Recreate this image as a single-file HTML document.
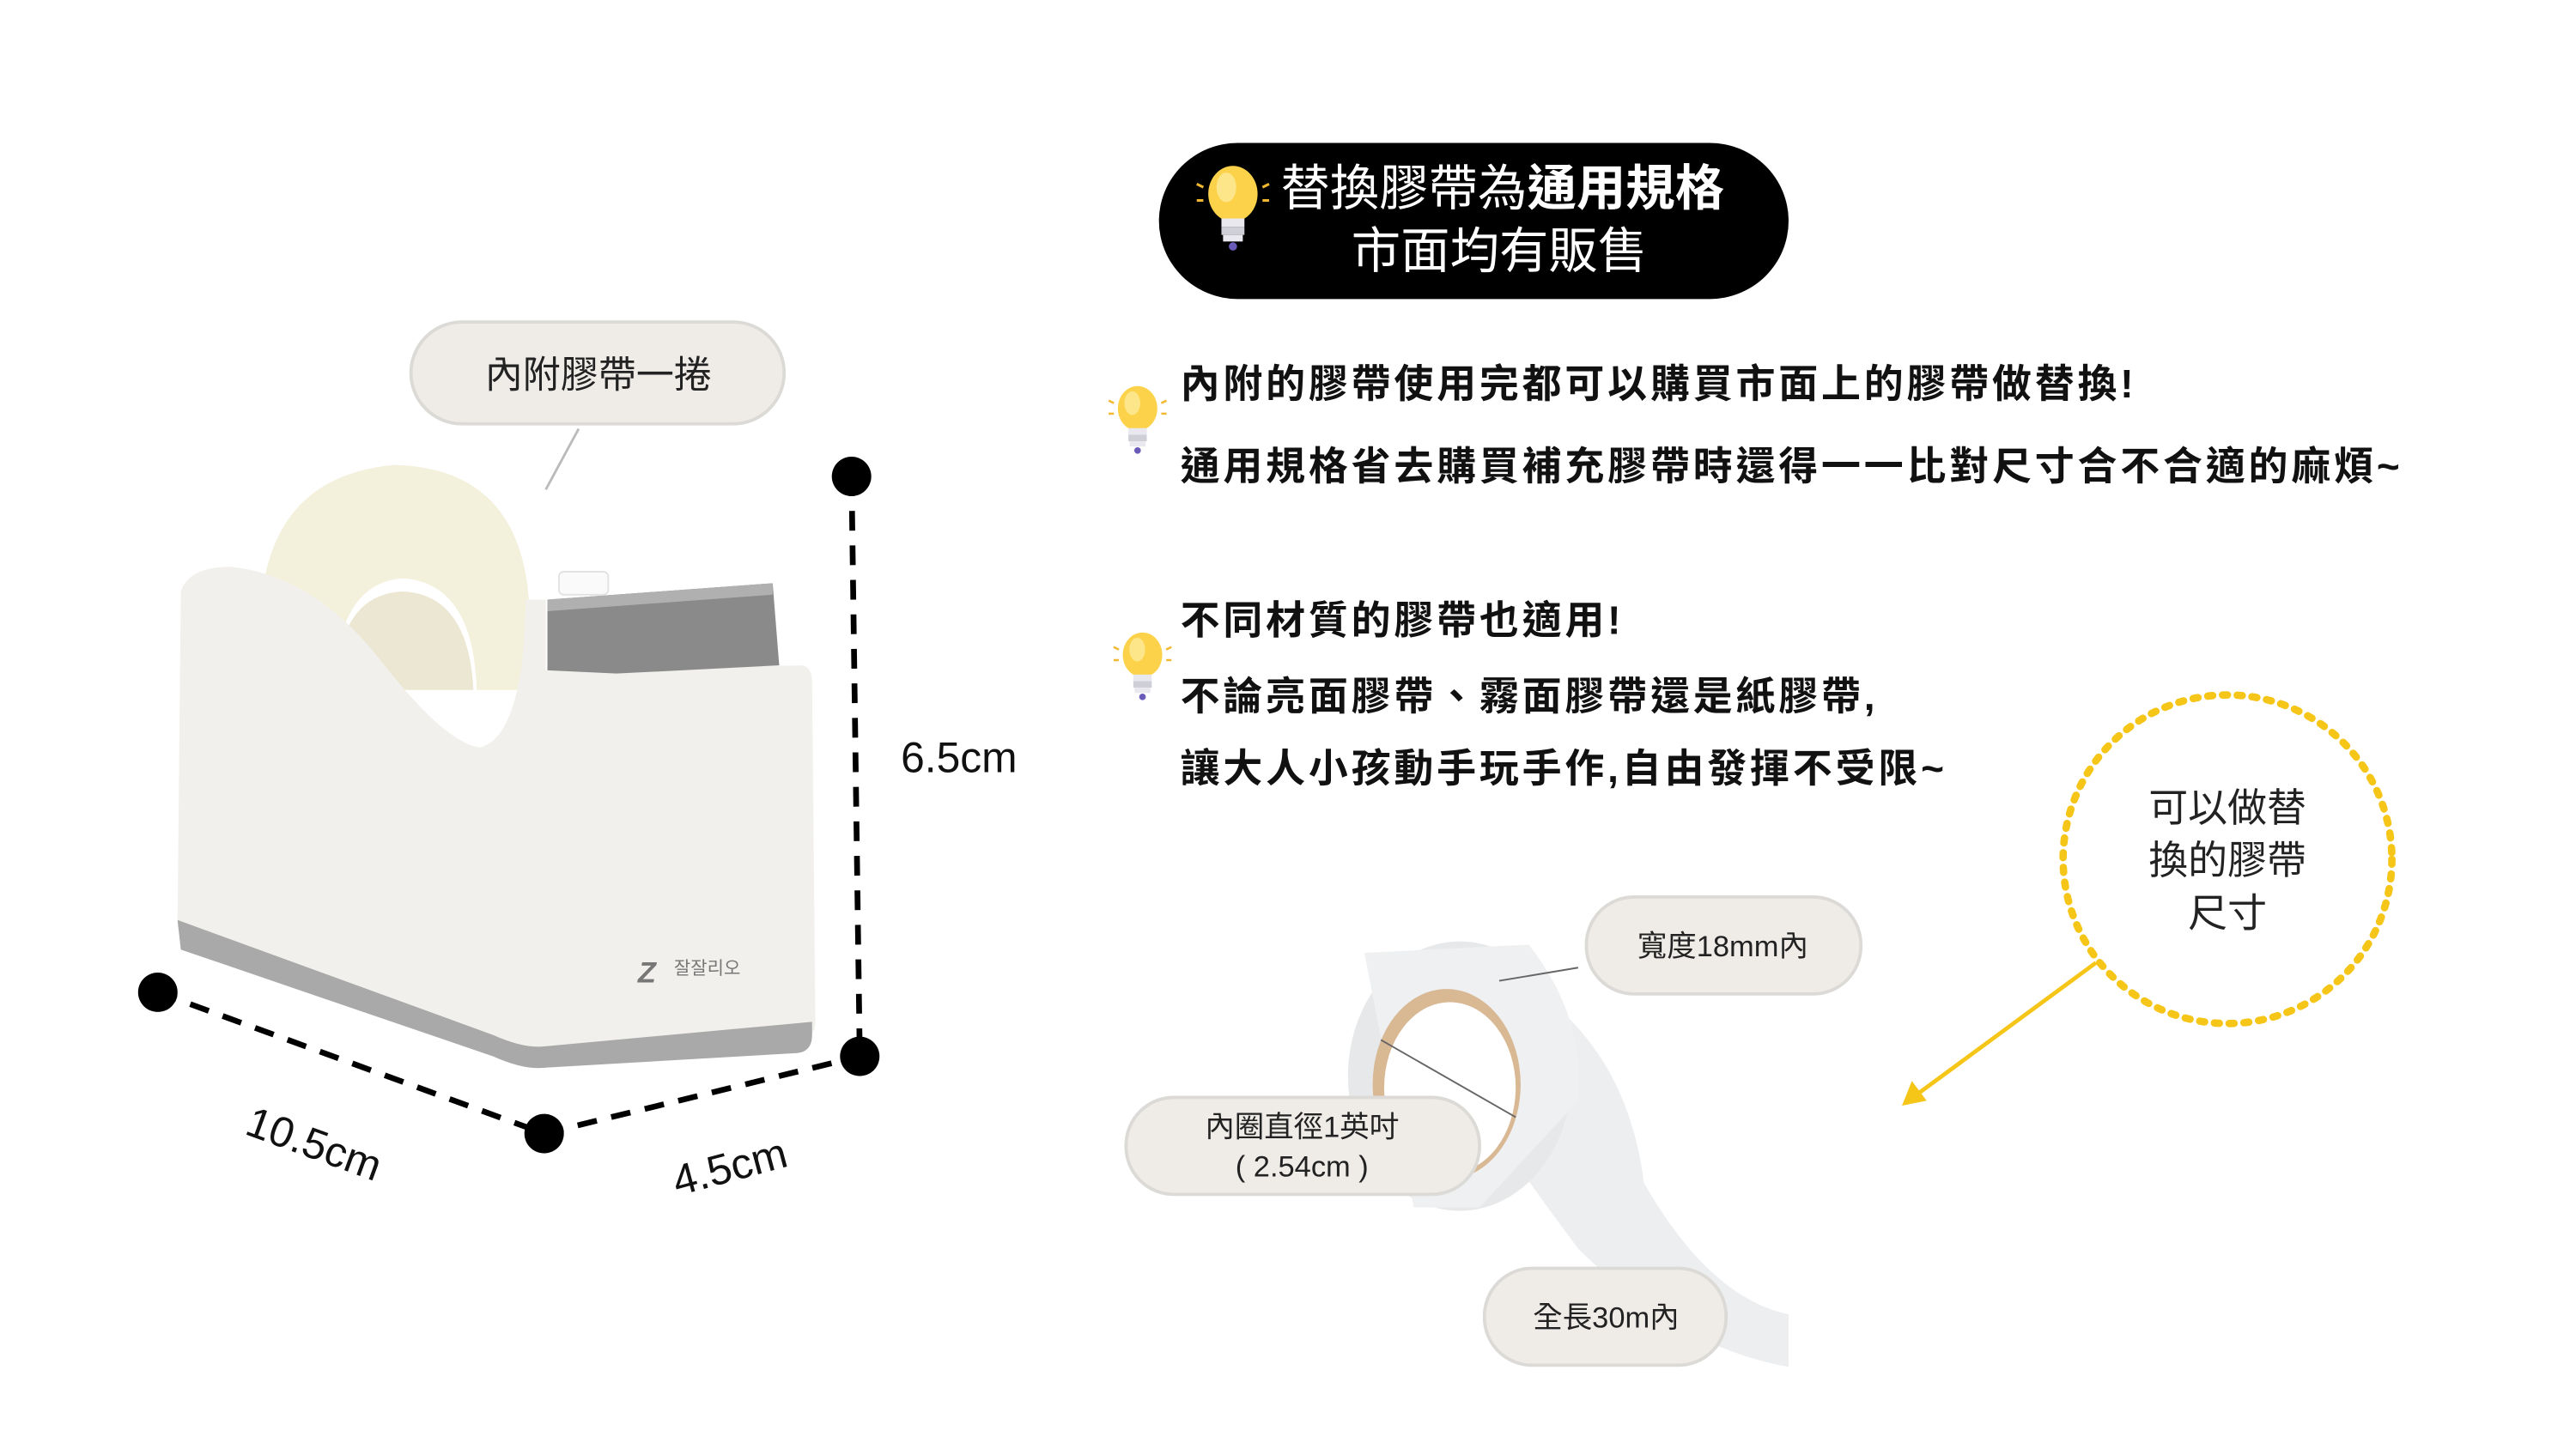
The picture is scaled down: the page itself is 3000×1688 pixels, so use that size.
<!DOCTYPE html>
<html><head><meta charset="utf-8"><style>
html,body{margin:0;padding:0;background:#fff;}
svg{display:block;}
text{font-family:"Liberation Sans","Noto Sans CJK TC",sans-serif;}
</style></head><body>
<svg width="3000" height="1688" viewBox="0 0 1567 882" preserveAspectRatio="none" xmlns="http://www.w3.org/2000/svg">
<defs>
<g id="bulb">
<ellipse cx="0" cy="-8" rx="15" ry="17" fill="#fcd24a"/>
<ellipse cx="-4" cy="-12" rx="6" ry="9" fill="#fde68a"/>
<rect x="-7" y="7" width="14" height="5" fill="#e8e8ee"/>
<rect x="-7" y="12" width="14" height="5" fill="#cfcfd8"/>
<rect x="-6" y="17" width="12" height="4" fill="#e8e8ee"/>
<circle cx="0" cy="24" r="2.5" fill="#6b5bb8"/>
<g stroke="#f2b830" stroke-width="1.6"><line x1="-22" y1="-14" x2="-18" y2="-12"/><line x1="18" y1="-12" x2="22" y2="-14"/><line x1="-22" y1="-4" x2="-18" y2="-4"/><line x1="18" y1="-4" x2="22" y2="-4"/></g>
</g>
</defs>
<!-- header pill -->
<rect x="705" y="87" width="383" height="95" rx="48" fill="#000"/>
<use href="#bulb" x="750" y="126"/>
<text x="779" y="125" font-size="30" fill="#fff">替換膠帶為<tspan font-weight="bold">通用規格</tspan></text>
<text x="912" y="163" font-size="30" fill="#fff" text-anchor="middle">市面均有販售</text>
<!-- bullets -->
<use href="#bulb" x="692" y="255" transform="translate(692 255) scale(0.8) translate(-692 -255)"/>
<use href="#bulb" x="695" y="405" transform="translate(695 405) scale(0.8) translate(-695 -405)"/>
<g font-size="24" font-weight="bold" fill="#111" letter-spacing="2">
<text x="718" y="242">內附的膠帶使用完都可以購買市面上的膠帶做替換!</text>
<text x="718" y="292">通用規格省去購買補充膠帶時還得一一比對尺寸合不合適的麻煩~</text>
<text x="718" y="386">不同材質的膠帶也適用!</text>
<text x="718" y="432">不論亮面膠帶、霧面膠帶還是紙膠帶,</text>
<text x="718" y="476">讓大人小孩動手玩手作,自由發揮不受限~</text>
</g>
<!-- label pill -->
<rect x="250" y="196" width="227" height="62" rx="31" fill="#efece8" stroke="#dcdad6" stroke-width="2"/>
<text x="364" y="236" font-size="23" fill="#222" text-anchor="middle">內附膠帶一捲</text>
<line x1="352" y1="261" x2="332" y2="298" stroke="#bbb" stroke-width="1.5"/>
<!-- dispenser: roll -->
<path d="M158 380 Q160 290 240 283 Q318 285 322 370 L322 420 L290 420 Q288 355 245 352 Q205 355 203 420 L160 420 Z" fill="#f3f0dc"/>
<path d="M205 420 Q205 362 245 360 Q285 362 288 420 Z" fill="#ebe7d2"/>
<!-- body -->
<path d="M110 360 Q115 345 140 345 Q190 350 230 400 Q270 452 292 455 Q312 450 318 400 L320 365 L332 365 L332 408 L488 405 Q494 406 494 415 L496 620 Q497 632 485 633 L330 645 Q320 646 300 638 L115 575 Q108 572 108 560 Z" fill="#f2f0ec"/>
<path d="M108 560 L300 630 Q318 638 330 637 L494 622 L494 630 Q494 640 485 641 L330 650 Q318 651 300 643 L110 578 Z" fill="#a9a9a9"/>
<path d="M333 365 L470 355 L474 405 L375 410 L333 408 Z" fill="#8a8a8a"/>
<path d="M333 365 L470 355 L470 362 L333 372 Z" fill="#b0b0b0"/>
<rect x="340" y="348" width="30" height="14" rx="3" fill="#fafafa" stroke="#e2e2e2"/>
<text x="388" y="598" font-size="18" font-style="italic" font-weight="bold" fill="#777">Z</text>
<text x="410" y="593" font-size="11" fill="#777" font-family="NanumGothic,sans-serif">잘잘리오</text>
<!-- dimensions -->
<g stroke="#000" stroke-width="3.5" stroke-dasharray="12 9" fill="none">
<line x1="518" y1="290" x2="523" y2="643"/>
<line x1="96" y1="604" x2="331" y2="690"/>
<line x1="331" y1="690" x2="523" y2="643"/>
</g>
<g fill="#000"><circle cx="518" cy="290" r="12"/><circle cx="523" cy="643" r="12"/><circle cx="96" cy="604" r="12"/><circle cx="331" cy="690" r="12"/></g>
<text x="548" y="470" font-size="26" fill="#111">6.5cm</text>
<text x="148" y="690" font-size="26" fill="#111" transform="rotate(20 148 690)">10.5cm</text>
<text x="412" y="728" font-size="26" fill="#111" transform="rotate(-15 412 728)">4.5cm</text>
<!-- tape roll -->
<path d="M930 600 Q990 640 1000 720 Q1040 790 1088 800 L1088 832 Q1020 820 960 760 Q930 720 910 690 Z" fill="#eceef0"/>
<ellipse cx="888" cy="655" rx="68" ry="82" fill="#e6e8ea"/>
<path d="M830 580 L930 575 Q965 620 960 670 L900 735 L860 735 Z" fill="#eef0f1"/>
<ellipse cx="880" cy="660" rx="45" ry="58" fill="#d9b894"/>
<ellipse cx="882" cy="662" rx="40" ry="52" fill="#fff"/>
<line x1="840" y1="633" x2="922" y2="680" stroke="#666" stroke-width="1"/>
<line x1="912" y1="597" x2="960" y2="589" stroke="#666" stroke-width="1"/>
<!-- tape pills -->
<g fill="#efece8" stroke="#dcdad6" stroke-width="2">
<rect x="965" y="546" width="167" height="59" rx="29"/>
<rect x="685" y="668" width="215" height="59" rx="29"/>
<rect x="903" y="772" width="147" height="59" rx="29"/>
</g>
<g font-size="18" fill="#222" text-anchor="middle">
<text x="1048" y="582">寬度18mm內</text>
<text x="792" y="692">內圈直徑1英吋</text>
<text x="792" y="716">( 2.54cm )</text>
<text x="977" y="808">全長30m內</text>
</g>
<!-- dotted circle -->
<circle cx="1355" cy="523" r="100" fill="none" stroke="#f5c518" stroke-width="4.5" stroke-dasharray="3 6" stroke-linecap="round"/>
<g font-size="24" fill="#222" text-anchor="middle">
<text x="1355" y="500">可以做替</text>
<text x="1355" y="532">換的膠帶</text>
<text x="1355" y="564">尺寸</text>
</g>
<line x1="1275" y1="586" x2="1165" y2="667" stroke="#f5c518" stroke-width="2.5"/>
<path d="M1157 673 L1163 658 L1172 670 Z" fill="#f5c518"/>
</svg>
</body></html>
